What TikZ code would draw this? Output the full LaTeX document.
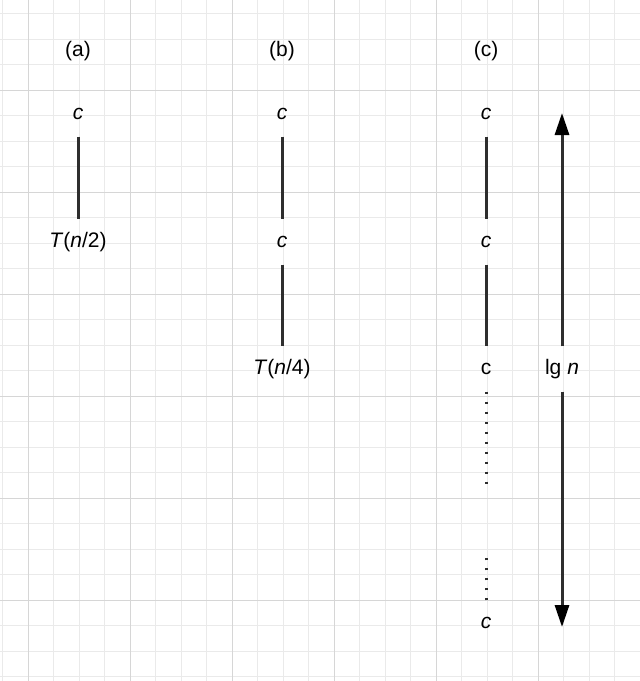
\documentclass[tikz,border=0pt]{standalone}
\usepackage{fontspec}
\setmainfont{Liberation Sans}
\usetikzlibrary{arrows.meta}
\definecolor{minorgrid}{HTML}{EAEAEA}
\definecolor{majorgrid}{HTML}{D6D6D6}
\definecolor{edgecol}{HTML}{2E2E2E}
\tikzset{
  lab/.style={font=\fontsize{21}{25}\selectfont, inner sep=0pt, text height=15pt, text depth=4pt, minimum height=45pt},
  captext/.style={font=\fontsize{21}{25}\selectfont, inner sep=0pt},
  conn/.style={line width=3pt, draw=edgecol},
  dotline/.style={line width=3pt, draw=edgecol, dash pattern=on 2.5pt off 7.5pt},
  measure/.style={line width=3pt, draw=edgecol, -{Triangle[width=14pt,length=22pt,color=black]}},
}
\begin{document}
\begin{tikzpicture}[x=1pt,y=-1pt]
\useasboundingbox (0,0) rectangle (640,681);
\fill[white] (0,0) rectangle (640,681);
% grid
\foreach \k in {0,...,25} {
  \draw[minorgrid, line width=1pt] ({2.5+25.5*\k},0) -- ({2.5+25.5*\k},681);
}
\foreach \k in {-3,...,23} {
  \draw[minorgrid, line width=1pt] (0,{90+25.5*\k}) -- (640,{90+25.5*\k});
}
\foreach \k in {0,...,6} {
  \draw[majorgrid, line width=1pt] ({28+102*\k},0) -- ({28+102*\k},681);
}
\foreach \k in {0,...,5} {
  \draw[majorgrid, line width=1pt] (0,{90+102*\k}) -- (640,{90+102*\k});
}
% captions
\node[captext] (capa) at (78,51) {(a)};
\node[captext] (capb) at (282,51) {(b)};
\node[captext] (capc) at (486,51) {(c)};
% column a
\node[lab] (a1) at (78,114) {\textit{c}};
\node[lab] (a2) at (78,242) {\textit{T}(\textit{n}/2)};
\draw[conn] (a1) -- (a2);
% column b
\node[lab] (b1) at (282,114) {\textit{c}};
\node[lab] (b2) at (282,242) {\textit{c}};
\node[lab] (b3) at (282,369) {\textit{T}(\textit{n}/4)};
\draw[conn] (b1) -- (b2);
\draw[conn] (b2) -- (b3);
% column c
\node[lab] (c1) at (486,114) {\textit{c}};
\node[lab] (c2) at (486,242) {\textit{c}};
\node[lab] (c3) at (486,369) {c};
\node[lab] (c4) at (486,623) {\textit{c}};
\draw[conn] (c1) -- (c2);
\draw[conn] (c2) -- (c3);
\coordinate (d1) at (486,490);
\coordinate (d2) at (486,555);
\draw[dotline] (c3.south) -- (d1);
\draw[dotline] (c4.north) -- (d2);
% lg n measure
\node[lab] (lg) at (562,369) {lg \textit{n}};
\coordinate (top) at (562,113);
\coordinate (bot) at (562,627);
\draw[measure] (lg) -- (top);
\draw[measure] (lg) -- (bot);
\end{tikzpicture}
\end{document}
